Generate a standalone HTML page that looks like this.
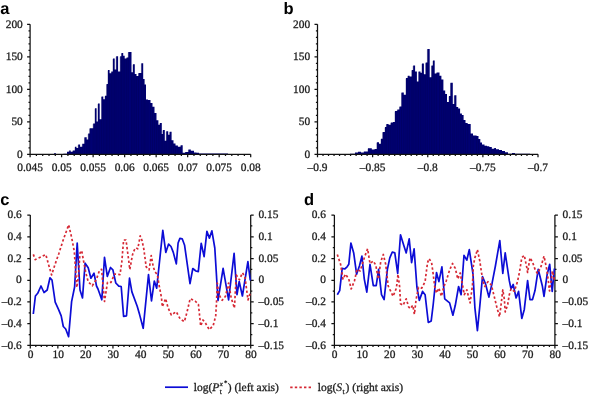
<!DOCTYPE html><html><head><meta charset="utf-8"><style>
html,body{margin:0;padding:0;background:#fff;}
body{width:589px;height:397px;overflow:hidden;}
svg{display:block;will-change:transform;}
text{font-family:"Liberation Serif",serif;fill:#1e1e1e;stroke:#1e1e1e;stroke-width:0.3px;text-rendering:geometricPrecision;}
.pl{font-family:"Liberation Sans",sans-serif;font-weight:bold;fill:#000;stroke:none;}
</style></head><body>
<svg width="589" height="397" viewBox="0 0 589 397">
<rect width="589" height="397" fill="#fff"/>
<text class="pl" x="0.3" y="14" font-size="16.5">a</text>
<text class="pl" x="283.6" y="14" font-size="16.5">b</text>
<text class="pl" x="0.2" y="205.2" font-size="16.5">c</text>
<text class="pl" x="303.9" y="205.2" font-size="16.5">d</text>
<path d="M50 154.3L50 154L54 154L54 153.3L56 153.3L56 154L63.4 154L63.4 153.7L67 153.7L67 151.8L69.2 151.8L69.2 150.4L70.7 150.4L70.7 151.8L72.8 151.8L72.8 150.4L75 150.4L75 146.7L76.5 146.7L76.5 148L78.2 148L78.2 144.5L80.1 144.5L80.1 146.7L82.3 146.7L82.3 143.8L84.5 143.8L84.5 137.2L86.7 137.2L86.7 139.4L88.2 139.4L88.2 133.6L89.7 133.6L89.7 128.3L93.2 128.3L93.2 123.5L95 123.5L95 108.2L96.6 108.2L96.6 121.4L98 121.4L98 103.4L99.7 103.4L99.7 119.3L101.5 119.3L101.5 96.5L103.3 96.5L103.3 99.2L105 99.2L105 95.8L106.6 95.8L106.6 84L108 84L108 70L109.6 70L109.6 73.3L111.3 73.3L111.3 71.6L113 71.6L113 58.4L114.7 58.4L114.7 69.4L116.2 69.4L116.2 56.3L118.1 56.3L118.1 71.6L120.2 71.6L120.2 56.3L121.5 56.3L121.5 53L123.2 53L123.2 55.8L124.7 55.8L124.7 58.6L126.6 58.6L126.6 57.5L128.3 57.5L128.3 52L131.5 52L131.5 72.3L133 72.3L133 64.2L134.8 64.2L134.8 74L136.5 74L136.5 76L138.5 76L138.5 73L141.4 73L141.4 63.2L143.2 63.2L143.2 79L144.6 79L144.6 84.5L146 84.5L146 99.4L148 99.4L148 100L150.5 100L150.5 103L152.5 103L152.5 106.7L154.5 106.7L154.5 113L156.5 113L156.5 120.3L158.4 120.3L158.4 124.8L159.9 124.8L159.9 123L161.8 123L161.8 133.9L162.9 133.9L162.9 130.1L164.8 130.1L164.8 140.7L166.3 140.7L166.3 131.3L168.2 131.3L168.2 134.7L169.7 134.7L169.7 131.7L171.6 131.7L171.6 140.3L173.5 140.3L173.5 143.5L175.5 143.5L175.5 145.6L177.9 145.6L177.9 146.8L180.7 146.8L180.7 145.2L182.7 145.2L182.7 152.8L185.2 152.8L185.2 152L188.4 152L188.4 149.6L190.8 149.6L190.8 150.8L194 150.8L194 152.4L196.5 152.4L196.5 152.8L199 152.8L199 153.5L203 153.5L203 153.6L228 153.6L228 154.3Z" fill="#000072"/>
<path d="M69.2 150.9V154.3M72.8 150.9V154.3M75 147.2V154.3M76.5 148.5V154.3M78.2 145V154.3M80.1 147.2V154.3M82.3 144.3V154.3M84.5 137.7V154.3M86.7 139.9V154.3M88.2 134.1V154.3M89.7 128.8V154.3M93.2 124V154.3M95 108.7V154.3M96.6 121.9V154.3M98 103.9V154.3M99.7 119.8V154.3M101.5 97V154.3M103.3 99.7V154.3M105 96.3V154.3M106.6 84.5V154.3M108 70.5V154.3M109.6 73.8V154.3M111.3 72.1V154.3M113 58.9V154.3M114.7 69.9V154.3M116.2 56.8V154.3M118.1 72.1V154.3M120.2 56.8V154.3M121.5 53.5V154.3M123.2 56.3V154.3M124.7 59.1V154.3M126.6 58V154.3M128.3 52.5V154.3M131.5 72.8V154.3M133 64.7V154.3M134.8 74.5V154.3M136.5 76.5V154.3M138.5 73.5V154.3M141.4 63.7V154.3M143.2 79.5V154.3M144.6 85V154.3M146 99.9V154.3M148 100.5V154.3M150.5 103.5V154.3M152.5 107.2V154.3M154.5 113.5V154.3M156.5 120.8V154.3M158.4 125.3V154.3M159.9 123.5V154.3M161.8 134.4V154.3M162.9 130.6V154.3M164.8 141.2V154.3M166.3 131.8V154.3M168.2 135.2V154.3M169.7 132.2V154.3M171.6 140.8V154.3M173.5 144V154.3M175.5 146.1V154.3M177.9 147.3V154.3M180.7 145.7V154.3M188.4 150.1V154.3M190.8 151.3V154.3" stroke="#000050" stroke-width="0.35" fill="none"/>
<path d="M350 154.3L350 153.8L355 153.8L355 152.5L358 152.5L358 151.8L361 151.8L361 152.5L363.8 152.5L363.8 151.4L368 151.4L368 148.2L371.8 148.2L371.8 149.6L374.7 149.6L374.7 149L376.9 149L376.9 142.3L379 142.3L379 143.8L381 143.8L381 138.7L382.7 138.7L382.7 132L385 132L385 127L386.4 127L386.4 124L388.6 124L388.6 124.8L390.8 124.8L390.8 122.6L393 122.6L393 122L395 122L395 111L397.3 111L397.3 109.5L399.5 109.5L399.5 106.6L401.5 106.6L401.5 92.6L403.8 92.6L403.8 94.7L406 94.7L406 78L407.8 78L407.8 75.8L409.6 75.8L409.6 76.5L411.8 76.5L411.8 70L413.2 70L413.2 65.5L415.1 65.5L415.1 71.4L416.9 71.4L416.9 81.6L418.6 81.6L418.6 71.4L420.5 71.4L420.5 72.8L422 72.8L422 63.4L423.9 63.4L423.9 74.3L425.7 74.3L425.7 62.6L427.4 62.6L427.4 49L429.7 49L429.7 77.2L431.5 77.2L431.5 65.5L433 65.5L433 60.4L434.7 60.4L434.7 73.6L436.6 73.6L436.6 72.4L439.5 72.4L439.5 75.8L441.4 75.8L441.4 79.4L443.4 79.4L443.4 90.5L445.2 90.5L445.2 93.9L447 93.9L447 101.9L449 101.9L449 96L450.5 96L450.5 82.7L452.8 82.7L452.8 104L454.3 104L454.3 95.3L456.4 95.3L456.4 107L458.2 107L458.2 108.5L460.1 108.5L460.1 113.6L461.9 113.6L461.9 115L463.6 115L463.6 120L465.5 120L465.5 123L467.7 123L467.7 124L470.7 124L470.7 133.5L473 133.5L473 135.4L476.6 135.4L476.6 136L478.5 136L478.5 139L480.3 139L480.3 142.6L482 142.6L482 144.5L484.5 144.5L484.5 145.7L487 145.7L487 146.3L489.3 146.3L489.3 146.9L491.8 146.9L491.8 148.7L494.2 148.7L494.2 148L496 148L496 149.3L499 149.3L499 150L502 150L502 151.1L505 151.1L505 152.3L508 152.3L508 153.8L512 153.8L512 153L515 153L515 153.8L530 153.8L530 154.3Z" fill="#000072"/>
<path d="M368 148.7V154.3M371.8 150.1V154.3M374.7 149.5V154.3M376.9 142.8V154.3M379 144.3V154.3M381 139.2V154.3M382.7 132.5V154.3M385 127.5V154.3M386.4 124.5V154.3M388.6 125.3V154.3M390.8 123.1V154.3M393 122.5V154.3M395 111.5V154.3M397.3 110V154.3M399.5 107.1V154.3M401.5 93.1V154.3M403.8 95.2V154.3M406 78.5V154.3M407.8 76.3V154.3M409.6 77V154.3M411.8 70.5V154.3M413.2 66V154.3M415.1 71.9V154.3M416.9 82.1V154.3M418.6 71.9V154.3M420.5 73.3V154.3M422 63.9V154.3M423.9 74.8V154.3M425.7 63.1V154.3M427.4 49.5V154.3M429.7 77.7V154.3M431.5 66V154.3M433 60.9V154.3M434.7 74.1V154.3M436.6 72.9V154.3M439.5 76.3V154.3M441.4 79.9V154.3M443.4 91V154.3M445.2 94.4V154.3M447 102.4V154.3M449 96.5V154.3M450.5 83.2V154.3M452.8 104.5V154.3M454.3 95.8V154.3M456.4 107.5V154.3M458.2 109V154.3M460.1 114.1V154.3M461.9 115.5V154.3M463.6 120.5V154.3M465.5 123.5V154.3M467.7 124.5V154.3M470.7 134V154.3M473 135.9V154.3M476.6 136.5V154.3M478.5 139.5V154.3M480.3 143.1V154.3M482 145V154.3M484.5 146.2V154.3M487 146.8V154.3M489.3 147.4V154.3M491.8 149.2V154.3M494.2 148.5V154.3M496 149.8V154.3M499 150.5V154.3M502 151.6V154.3" stroke="#000050" stroke-width="0.35" fill="none"/>
<path d="M30.1 24.2V154.8M27.6 154.3H250.7M27.1 154.3H30.1M28.5 147.8H30.1M28.5 141.3H30.1M28.5 134.8H30.1M28.5 128.3H30.1M27.1 121.8H30.1M28.5 115.3H30.1M28.5 108.8H30.1M28.5 102.3H30.1M28.5 95.8H30.1M27.1 89.3H30.1M28.5 82.8H30.1M28.5 76.3H30.1M28.5 69.8H30.1M28.5 63.3H30.1M27.1 56.8H30.1M28.5 50.3H30.1M28.5 43.8H30.1M28.5 37.3H30.1M28.5 30.8H30.1M27.1 24.3H30.1M30.1 154.3V157.3M61.61 154.3V157.3M93.13 154.3V157.3M124.64 154.3V157.3M156.16 154.3V157.3M187.67 154.3V157.3M219.19 154.3V157.3M250.7 154.3V157.3M36.4 154.3V155.9M42.71 154.3V155.9M49.01 154.3V155.9M55.31 154.3V155.9M67.92 154.3V155.9M74.22 154.3V155.9M80.52 154.3V155.9M86.83 154.3V155.9M99.43 154.3V155.9M105.73 154.3V155.9M112.04 154.3V155.9M118.34 154.3V155.9M130.95 154.3V155.9M137.25 154.3V155.9M143.55 154.3V155.9M149.85 154.3V155.9M162.46 154.3V155.9M168.76 154.3V155.9M175.07 154.3V155.9M181.37 154.3V155.9M193.97 154.3V155.9M200.28 154.3V155.9M206.58 154.3V155.9M212.88 154.3V155.9M225.49 154.3V155.9M231.79 154.3V155.9M238.09 154.3V155.9M244.4 154.3V155.9" stroke="#111111" stroke-width="1.25" fill="none"/>
<text x="22.8" y="157.6" text-anchor="end" font-size="11.4">0</text>
<text x="22.8" y="125.1" text-anchor="end" font-size="11.4">50</text>
<text x="22.8" y="92.6" text-anchor="end" font-size="11.4">100</text>
<text x="22.8" y="60.1" text-anchor="end" font-size="11.4">150</text>
<text x="22.8" y="27.6" text-anchor="end" font-size="11.4">200</text>
<text x="30.1" y="171.3" text-anchor="middle" font-size="11.4">0.045</text>
<text x="61.61" y="171.3" text-anchor="middle" font-size="11.4">0.05</text>
<text x="93.13" y="171.3" text-anchor="middle" font-size="11.4">0.055</text>
<text x="124.64" y="171.3" text-anchor="middle" font-size="11.4">0.06</text>
<text x="156.16" y="171.3" text-anchor="middle" font-size="11.4">0.065</text>
<text x="187.67" y="171.3" text-anchor="middle" font-size="11.4">0.07</text>
<text x="219.19" y="171.3" text-anchor="middle" font-size="11.4">0.075</text>
<text x="250.7" y="171.3" text-anchor="middle" font-size="11.4">0.08</text>
<path d="M317.5 24.2V154.8M315 154.3H538M314.5 154.3H317.5M315.9 147.8H317.5M315.9 141.3H317.5M315.9 134.8H317.5M315.9 128.3H317.5M314.5 121.8H317.5M315.9 115.3H317.5M315.9 108.8H317.5M315.9 102.3H317.5M315.9 95.8H317.5M314.5 89.3H317.5M315.9 82.8H317.5M315.9 76.3H317.5M315.9 69.8H317.5M315.9 63.3H317.5M314.5 56.8H317.5M315.9 50.3H317.5M315.9 43.8H317.5M315.9 37.3H317.5M315.9 30.8H317.5M314.5 24.3H317.5M317.5 154.3V157.3M372.62 154.3V157.3M427.75 154.3V157.3M482.88 154.3V157.3M538 154.3V157.3M323.01 154.3V155.9M328.52 154.3V155.9M334.04 154.3V155.9M339.55 154.3V155.9M345.06 154.3V155.9M350.57 154.3V155.9M356.09 154.3V155.9M361.6 154.3V155.9M367.11 154.3V155.9M378.14 154.3V155.9M383.65 154.3V155.9M389.16 154.3V155.9M394.68 154.3V155.9M400.19 154.3V155.9M405.7 154.3V155.9M411.21 154.3V155.9M416.73 154.3V155.9M422.24 154.3V155.9M433.26 154.3V155.9M438.77 154.3V155.9M444.29 154.3V155.9M449.8 154.3V155.9M455.31 154.3V155.9M460.82 154.3V155.9M466.34 154.3V155.9M471.85 154.3V155.9M477.36 154.3V155.9M488.39 154.3V155.9M493.9 154.3V155.9M499.41 154.3V155.9M504.93 154.3V155.9M510.44 154.3V155.9M515.95 154.3V155.9M521.46 154.3V155.9M526.98 154.3V155.9M532.49 154.3V155.9" stroke="#111111" stroke-width="1.25" fill="none"/>
<text x="310.2" y="157.6" text-anchor="end" font-size="11.4">0</text>
<text x="310.2" y="125.1" text-anchor="end" font-size="11.4">50</text>
<text x="310.2" y="92.6" text-anchor="end" font-size="11.4">100</text>
<text x="310.2" y="60.1" text-anchor="end" font-size="11.4">150</text>
<text x="310.2" y="27.6" text-anchor="end" font-size="11.4">200</text>
<text x="317.5" y="171.3" text-anchor="middle" font-size="11.4">–0.9</text>
<text x="372.62" y="171.3" text-anchor="middle" font-size="11.4">–0.85</text>
<text x="427.75" y="171.3" text-anchor="middle" font-size="11.4">–0.8</text>
<text x="482.88" y="171.3" text-anchor="middle" font-size="11.4">–0.75</text>
<text x="538" y="171.3" text-anchor="middle" font-size="11.4">–0.7</text>
<path d="M30.3 215.1V345.9M250.7 215.1V345.9M27.3 345.4H253.7M27.3 215.1H30.3M250.7 215.1H253.7M28.7 225.96H30.3M250.7 225.96H252.3M27.3 236.82H30.3M250.7 236.82H253.7M28.7 247.67H30.3M250.7 247.67H252.3M27.3 258.53H30.3M250.7 258.53H253.7M28.7 269.39H30.3M250.7 269.39H252.3M27.3 280.25H30.3M250.7 280.25H253.7M28.7 291.11H30.3M250.7 291.11H252.3M27.3 301.97H30.3M250.7 301.97H253.7M28.7 312.82H30.3M250.7 312.82H252.3M27.3 323.68H30.3M250.7 323.68H253.7M28.7 334.54H30.3M250.7 334.54H252.3M27.3 345.4H30.3M250.7 345.4H253.7M30.3 345.4V348.4M35.81 345.4V347M41.32 345.4V347M46.83 345.4V347M52.34 345.4V347M57.85 345.4V348.4M63.36 345.4V347M68.87 345.4V347M74.38 345.4V347M79.89 345.4V347M85.4 345.4V348.4M90.91 345.4V347M96.42 345.4V347M101.93 345.4V347M107.44 345.4V347M112.95 345.4V348.4M118.46 345.4V347M123.97 345.4V347M129.48 345.4V347M134.99 345.4V347M140.5 345.4V348.4M146.01 345.4V347M151.52 345.4V347M157.03 345.4V347M162.54 345.4V347M168.05 345.4V348.4M173.56 345.4V347M179.07 345.4V347M184.58 345.4V347M190.09 345.4V347M195.6 345.4V348.4M201.11 345.4V347M206.62 345.4V347M212.13 345.4V347M217.64 345.4V347M223.15 345.4V348.4M228.66 345.4V347M234.17 345.4V347M239.68 345.4V347M245.19 345.4V347M250.7 345.4V348.4" stroke="#111111" stroke-width="1.25" fill="none"/>
<text x="21.8" y="218.3" text-anchor="end" font-size="11.4">0.6</text>
<text x="258.4" y="218.3" text-anchor="start" font-size="11.4">0.15</text>
<text x="21.8" y="240.02" text-anchor="end" font-size="11.4">0.4</text>
<text x="258.4" y="240.02" text-anchor="start" font-size="11.4">0.1</text>
<text x="21.8" y="261.73" text-anchor="end" font-size="11.4">0.2</text>
<text x="258.4" y="261.73" text-anchor="start" font-size="11.4">0.05</text>
<text x="21.8" y="283.45" text-anchor="end" font-size="11.4">0</text>
<text x="258.4" y="283.45" text-anchor="start" font-size="11.4">0</text>
<text x="21.8" y="305.17" text-anchor="end" font-size="11.4">–0.2</text>
<text x="258.4" y="305.17" text-anchor="start" font-size="11.4">–0.05</text>
<text x="21.8" y="326.88" text-anchor="end" font-size="11.4">–0.4</text>
<text x="258.4" y="326.88" text-anchor="start" font-size="11.4">–0.1</text>
<text x="21.8" y="348.6" text-anchor="end" font-size="11.4">–0.6</text>
<text x="258.4" y="348.6" text-anchor="start" font-size="11.4">–0.15</text>
<text x="30.6" y="358.4" text-anchor="middle" font-size="11.4">0</text>
<text x="58.15" y="358.4" text-anchor="middle" font-size="11.4">10</text>
<text x="85.7" y="358.4" text-anchor="middle" font-size="11.4">20</text>
<text x="113.25" y="358.4" text-anchor="middle" font-size="11.4">30</text>
<text x="140.8" y="358.4" text-anchor="middle" font-size="11.4">40</text>
<text x="168.35" y="358.4" text-anchor="middle" font-size="11.4">50</text>
<text x="195.9" y="358.4" text-anchor="middle" font-size="11.4">60</text>
<text x="223.45" y="358.4" text-anchor="middle" font-size="11.4">70</text>
<text x="251" y="358.4" text-anchor="middle" font-size="11.4">80</text>
<path d="M334.4 215.1V345.9M554.9 215.1V345.9M331.4 345.4H557.9M331.4 215.1H334.4M554.9 215.1H557.9M332.8 225.96H334.4M554.9 225.96H556.5M331.4 236.82H334.4M554.9 236.82H557.9M332.8 247.67H334.4M554.9 247.67H556.5M331.4 258.53H334.4M554.9 258.53H557.9M332.8 269.39H334.4M554.9 269.39H556.5M331.4 280.25H334.4M554.9 280.25H557.9M332.8 291.11H334.4M554.9 291.11H556.5M331.4 301.97H334.4M554.9 301.97H557.9M332.8 312.82H334.4M554.9 312.82H556.5M331.4 323.68H334.4M554.9 323.68H557.9M332.8 334.54H334.4M554.9 334.54H556.5M331.4 345.4H334.4M554.9 345.4H557.9M334.4 345.4V348.4M339.91 345.4V347M345.42 345.4V347M350.94 345.4V347M356.45 345.4V347M361.96 345.4V348.4M367.47 345.4V347M372.99 345.4V347M378.5 345.4V347M384.01 345.4V347M389.52 345.4V348.4M395.04 345.4V347M400.55 345.4V347M406.06 345.4V347M411.57 345.4V347M417.09 345.4V348.4M422.6 345.4V347M428.11 345.4V347M433.62 345.4V347M439.14 345.4V347M444.65 345.4V348.4M450.16 345.4V347M455.67 345.4V347M461.19 345.4V347M466.7 345.4V347M472.21 345.4V348.4M477.73 345.4V347M483.24 345.4V347M488.75 345.4V347M494.26 345.4V347M499.77 345.4V348.4M505.29 345.4V347M510.8 345.4V347M516.31 345.4V347M521.83 345.4V347M527.34 345.4V348.4M532.85 345.4V347M538.36 345.4V347M543.88 345.4V347M549.39 345.4V347M554.9 345.4V348.4" stroke="#111111" stroke-width="1.25" fill="none"/>
<text x="325.9" y="218.3" text-anchor="end" font-size="11.4">0.6</text>
<text x="562.6" y="218.3" text-anchor="start" font-size="11.4">0.15</text>
<text x="325.9" y="240.02" text-anchor="end" font-size="11.4">0.4</text>
<text x="562.6" y="240.02" text-anchor="start" font-size="11.4">0.1</text>
<text x="325.9" y="261.73" text-anchor="end" font-size="11.4">0.2</text>
<text x="562.6" y="261.73" text-anchor="start" font-size="11.4">0.05</text>
<text x="325.9" y="283.45" text-anchor="end" font-size="11.4">0</text>
<text x="562.6" y="283.45" text-anchor="start" font-size="11.4">0</text>
<text x="325.9" y="305.17" text-anchor="end" font-size="11.4">–0.2</text>
<text x="562.6" y="305.17" text-anchor="start" font-size="11.4">–0.05</text>
<text x="325.9" y="326.88" text-anchor="end" font-size="11.4">–0.4</text>
<text x="562.6" y="326.88" text-anchor="start" font-size="11.4">–0.1</text>
<text x="325.9" y="348.6" text-anchor="end" font-size="11.4">–0.6</text>
<text x="562.6" y="348.6" text-anchor="start" font-size="11.4">–0.15</text>
<text x="334.7" y="358.4" text-anchor="middle" font-size="11.4">0</text>
<text x="362.26" y="358.4" text-anchor="middle" font-size="11.4">10</text>
<text x="389.82" y="358.4" text-anchor="middle" font-size="11.4">20</text>
<text x="417.39" y="358.4" text-anchor="middle" font-size="11.4">30</text>
<text x="444.95" y="358.4" text-anchor="middle" font-size="11.4">40</text>
<text x="472.51" y="358.4" text-anchor="middle" font-size="11.4">50</text>
<text x="500.07" y="358.4" text-anchor="middle" font-size="11.4">60</text>
<text x="527.64" y="358.4" text-anchor="middle" font-size="11.4">70</text>
<text x="555.2" y="358.4" text-anchor="middle" font-size="11.4">80</text>
<polyline points="33.3,314 35.4,296 37.7,293.3 41,286 44,292.5 47.2,290 50,277.8 52,280 55.2,302.2 58.5,309.3 61.2,315.8 63.3,326.5 65.7,329 68.6,336.6 71.6,301.6 74.6,287 77.2,243 80,290 82.5,298 85.1,263.2 88.2,267.8 90.9,278.2 94,273.2 96.5,286 98,289 101.8,299.8 104.5,257.3 107.3,276.4 110.5,267.5 112.9,269.9 115.8,283 118.8,286.2 121.2,286.5 123.6,316.4 126.5,315.8 129.5,278.2 131.9,291.9 137.2,306.3 139.6,314.6 143.2,328.3 148.5,274.6 151.5,301 154.3,281 156.7,288.2 162.8,230.4 165.8,252.4 168.6,244.1 171,246.5 173.3,252.4 176.3,263.9 178.1,243 179.9,238.4 182.2,238.8 184.6,245.3 190,283.7 192.8,268.5 195.9,271 198.3,271.6 201.2,243.3 204.1,256.6 206.9,231.3 209.4,238.1 211.9,230.8 214.8,248 218,300.5 223.1,268.4 228.6,299.8 234.1,253.4 237,294.6 239.2,281.5 242.4,296 247.9,261.7 250.3,280.5" fill="none" stroke="#0c0cd6" stroke-width="1.7" stroke-linejoin="round"/>
<polyline points="33.3,254.4 35.3,259.6 41.5,256.7 45.8,254.6 48,262.5 51.6,275 55,264.5 58.7,254 63.3,239.7 68.7,224.8 71.8,238.3 74.3,251.4 76.8,287.5 78.4,276 80,253 81.7,250.6 83.3,259.6 85.8,272.7 88.2,281.7 92.3,285.8 96.4,279.3 99.5,270.5 101.6,269.3 104.5,301.5 107.5,282.3 111,282.3 114.6,274 120,274.6 121.8,262 123.6,240 126,240 128.3,257.3 129.8,269.5 132.5,254.8 134.3,250 136,247.7 137.8,248.9 140.2,235.8 142,240.5 143.8,248.9 146.2,266.9 149.1,269.9 151.2,255.5 153.3,266.9 154.9,271.6 157.4,274.8 159,284.7 161.5,297.8 162.3,306.8 165.6,298.6 168,307.6 171.3,315 176.2,311.7 180.3,319.1 184.4,321.6 186.9,312.5 190.2,298.6 195.1,301 198.4,304.3 200.7,326 203,320 205.4,323 209.3,329.7 213.2,325.6 215.7,315.9 216.5,302.8 217.3,283.1 218.9,294.6 222.2,300.3 225.5,296.2 228.6,283 231.2,297.9 234.4,308 236.3,275 239.4,279.8 242.5,272.8 245,277 246.4,288 248,300 250.2,293" fill="none" stroke="#d62834" stroke-width="1.7" stroke-dasharray="2.4 2.2" stroke-linejoin="round"/>
<polyline points="337.3,294.7 339.7,290.6 342.2,268.4 344.7,269 347.1,266.8 348.8,264.3 350.9,243 353.7,252.9 356.6,274.2 359.4,266 361.9,256.1 364.3,279.1 366.8,292.2 370,264.3 373.3,285.7 376.2,285.7 378.6,269.3 381.5,294.7 384.1,299.6 387.4,269.3 389.8,257.8 392.3,252 394.8,252.9 397.7,273.4 400.5,234.8 403.8,245.5 406.2,252.9 409.2,238.9 411.6,262.7 414.1,248.8 416.9,287 419.3,300.4 422.6,291.4 425.1,294.7 428.3,322.5 431.2,320.9 433.2,304.5 436.5,272.5 438.9,281.6 441.9,266.8 444.7,298.8 449.6,302.9 452.9,315.2 455.3,305.3 458.6,286.5 461.1,294.7 464,255.3 466.8,260.2 469.3,249.6 473,274.2 474.9,307.8 477.4,330.7 479.8,306.1 482.5,276.6 485.6,284 488.9,297.1 492.1,283.2 495.4,266 499.8,240.6 502.8,273.4 505.2,252.9 509.3,280.7 511,288.9 513.2,284.5 516.1,298 518.6,291.4 521.8,318.4 524.3,309.4 527.6,280.7 530,299.6 532.5,299.6 535,290.6 538.2,269.3 542.3,285.7 544,296.3 547.2,274.2 549.7,264.3 552.2,291.4 554.4,268.5" fill="none" stroke="#0c0cd6" stroke-width="1.7" stroke-linejoin="round"/>
<polyline points="337.3,254.5 340.6,264.3 343,279.1 345.5,274.2 348.8,279.1 351.2,289 354.5,280.7 357,269.3 360.2,270.9 364.3,257.8 367.6,248.8 370,263.5 373.3,261 375.8,265.2 378.3,279.1 380.7,261.9 383.3,254.5 385.7,264.3 388.2,286 393.1,296.3 396.4,288.1 398,274.2 399.7,287.3 400.5,303.7 403,305.3 406.2,298.8 408.7,307 410.3,308.6 412.8,305.3 414.4,314.3 416.1,299.6 418.5,287.3 421.8,288.1 425.1,281.6 427.5,262.7 429.1,258.6 431.6,262.7 433.2,274.2 434.8,287.3 436.5,293 438.9,288.1 441.4,296.3 443.9,286.5 446.3,280.7 449.6,270.1 452.5,263.5 455.3,268.4 457.8,279 460.2,273 462.5,285 464.3,294.7 466.8,289.8 470.1,302.9 472.5,285 473.3,266 474.9,257.8 477.4,249.6 479.8,261 481.5,272.5 483.1,281.6 484.8,286.5 488,281.6 491.3,284.8 494.6,298 497,307.8 499.5,316.8 501.1,304.5 502.8,289.8 504.4,299.6 505.2,311.9 507.7,304.5 509.3,294.7 511,288.9 514.3,291.4 517.5,281.6 519.4,272.5 521.8,257.8 524.3,255.3 526.8,267.6 527.6,272.5 530,257.8 532.5,261.9 535,269.3 537.4,273.4 540.7,267.6 544,256.1 546.4,267.6 548.1,279 549.5,291 552.5,271 554.3,280" fill="none" stroke="#d62834" stroke-width="1.7" stroke-dasharray="2.4 2.2" stroke-linejoin="round"/>
<line x1="165" y1="387.2" x2="188" y2="387.2" stroke="#0c0cd6" stroke-width="1.7"/>
<text x="193.8" y="390.6" font-size="11.5">log(<tspan font-style="italic">P</tspan></text>
<text x="219.7" y="386.3" font-size="6.8" font-style="italic">x</text>
<text x="224" y="385.3" font-size="6.8">*</text>
<text x="219.8" y="394.3" font-size="7.5">t</text>
<text x="227.8" y="390.6" font-size="11.5">) (left axis)</text>
<line x1="290.2" y1="387.3" x2="311.1" y2="387.3" stroke="#d62834" stroke-width="1.7" stroke-dasharray="2.4 2.2"/>
<text x="317.7" y="390.6" font-size="11.5">log(<tspan font-style="italic">S</tspan></text>
<text x="342.5" y="394" font-size="7.5">t</text>
<text x="345.6" y="390.6" font-size="11.5">) (right axis)</text>
</svg></body></html>
